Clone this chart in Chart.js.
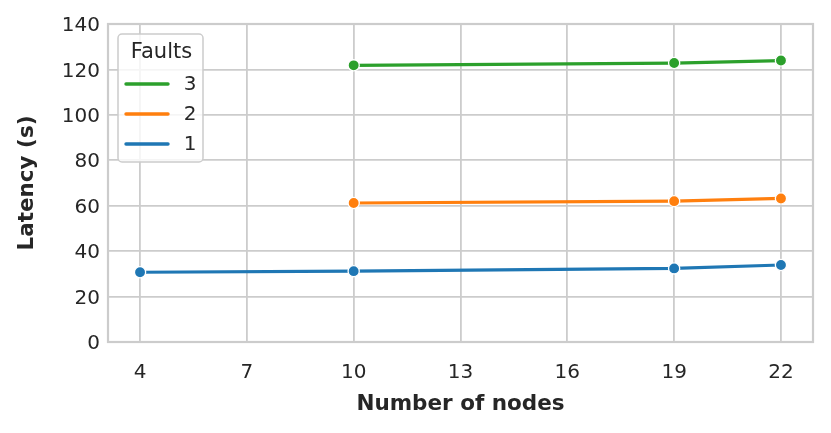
<!DOCTYPE html>
<html>
<head>
<meta charset="utf-8">
<script src="https://cdn.jsdelivr.net/npm/chart.js@4/dist/chart.umd.min.js"></script>
<style>
  html, body { margin: 0; padding: 0; background: #ffffff; }
  #wrap { width: 831px; height: 433px; }
</style>
</head>
<body>
<div id="wrap"><canvas id="c" width="831" height="433"></canvas></div>
<script>
// ---- data ----
const xTicks = [4, 7, 10, 13, 16, 19, 22];
const yTicks = [0, 20, 40, 60, 80, 100, 120, 140];
const nodes1 = [4, 10, 19, 22];
const latency1 = [30.7, 31.2, 32.4, 33.9];
const nodes2 = [10, 19, 22];
const latency2 = [61.2, 62.0, 63.2];
const nodes3 = [10, 19, 22];
const latency3 = [121.8, 122.8, 123.9];
const seriesNames = ['1', '2', '3'];
const legendTitle = 'Faults';
const xTitle = 'Number of nodes';
const yTitle = 'Latency (s)';

const colors = ['#1f77b4', '#ff7f0e', '#2ca02c'];
const textColor = '#262626';
const gridColor = '#cccccc';
const FONT = "'DejaVu Sans', sans-serif";

function pts(xs, ys) { return xs.map((x, i) => ({ x: x, y: ys[i] })); }

function ds(label, data, color) {
  return {
    label: label,
    data: data,
    borderColor: color,
    backgroundColor: color,
    borderWidth: 3.2,
    pointRadius: 5.6,
    pointHoverRadius: 5.6,
    pointBackgroundColor: color,
    pointBorderColor: '#ffffff',
    pointBorderWidth: 1.3,
    tension: 0,
    fill: false
  };
}

const framePlugin = {
  id: 'frame',
  beforeDatasetsDraw(chart) {
    const { ctx, chartArea: a } = chart;
    ctx.save();
    ctx.strokeStyle = gridColor;
    ctx.lineWidth = 2.2;
    ctx.strokeRect(a.left, a.top, a.right - a.left, a.bottom - a.top);
    ctx.restore();
  }
};

const legendPlugin = {
  id: 'innerLegend',
  afterDatasetsDraw(chart) {
    const { ctx, chartArea: a } = chart;
    const x0 = a.left + 10, y0 = a.top + 10, w = 85, h = 128, r = 4;
    ctx.save();
    ctx.beginPath();
    ctx.moveTo(x0 + r, y0);
    ctx.arcTo(x0 + w, y0, x0 + w, y0 + h, r);
    ctx.arcTo(x0 + w, y0 + h, x0, y0 + h, r);
    ctx.arcTo(x0, y0 + h, x0, y0, r);
    ctx.arcTo(x0, y0, x0 + w, y0, r);
    ctx.closePath();
    ctx.fillStyle = 'rgba(255,255,255,0.8)';
    ctx.fill();
    ctx.strokeStyle = gridColor;
    ctx.lineWidth = 1.5;
    ctx.stroke();

    ctx.fillStyle = textColor;
    ctx.textAlign = 'center';
    ctx.textBaseline = 'middle';
    ctx.font = "21px " + FONT;
    ctx.fillText(legendTitle, x0 + w / 2 + 1, y0 + 19);

    const order = [2, 1, 0];
    order.forEach((si, k) => {
      const yy = y0 + 50 + k * 30;
      ctx.strokeStyle = colors[si];
      ctx.lineWidth = 3.4;
      ctx.lineCap = 'round';
      ctx.beginPath();
      ctx.moveTo(x0 + 8, yy);
      ctx.lineTo(x0 + 50, yy);
      ctx.stroke();
      ctx.fillStyle = textColor;
      ctx.font = "20px " + FONT;
      ctx.textAlign = 'center';
      ctx.fillText(seriesNames[si], x0 + 72, yy + 1);
    });
    ctx.restore();
  }
};

new Chart(document.getElementById('c'), {
  type: 'line',
  data: {
    datasets: [
      ds(seriesNames[0], pts(nodes1, latency1), colors[0]),
      ds(seriesNames[1], pts(nodes2, latency2), colors[1]),
      ds(seriesNames[2], pts(nodes3, latency3), colors[2])
    ]
  },
  options: {
    responsive: false,
    animation: false,
    events: [],
    layout: { padding: { top: 24, right: 18, left: 0, bottom: 0 } },
    plugins: { legend: { display: false }, tooltip: { enabled: false } },
    scales: {
      x: {
        type: 'linear',
        min: 3.1,
        max: 22.9,
        afterBuildTicks(scale) { scale.ticks = xTicks.map(v => ({ value: v })); },
        afterFit(scale) { scale.height = 91; },
        grid: { color: gridColor, lineWidth: 1.8, drawTicks: false },
        border: { display: false },
        ticks: { color: textColor, font: { family: FONT, size: 20 }, padding: 19, maxRotation: 0, autoSkip: false },
        title: { display: true, text: xTitle, color: textColor, font: { family: FONT, size: 21.5, weight: 'bold' }, padding: { top: 0, bottom: 16 } }
      },
      y: {
        type: 'linear',
        min: 0,
        max: 140,
        afterBuildTicks(scale) { scale.ticks = yTicks.map(v => ({ value: v })); },
        afterFit(scale) { scale.width = 108; },
        grid: { color: gridColor, lineWidth: 1.8, drawTicks: false },
        border: { display: false },
        ticks: { color: textColor, font: { family: FONT, size: 20 }, padding: 8, labelOffset: 2, autoSkip: false },
        title: { display: true, text: yTitle, color: textColor, font: { family: FONT, size: 21.5, weight: 'bold' }, padding: { top: 15, bottom: 0 } }
      }
    }
  },
  plugins: [framePlugin, legendPlugin]
});
</script>
</body>
</html>
